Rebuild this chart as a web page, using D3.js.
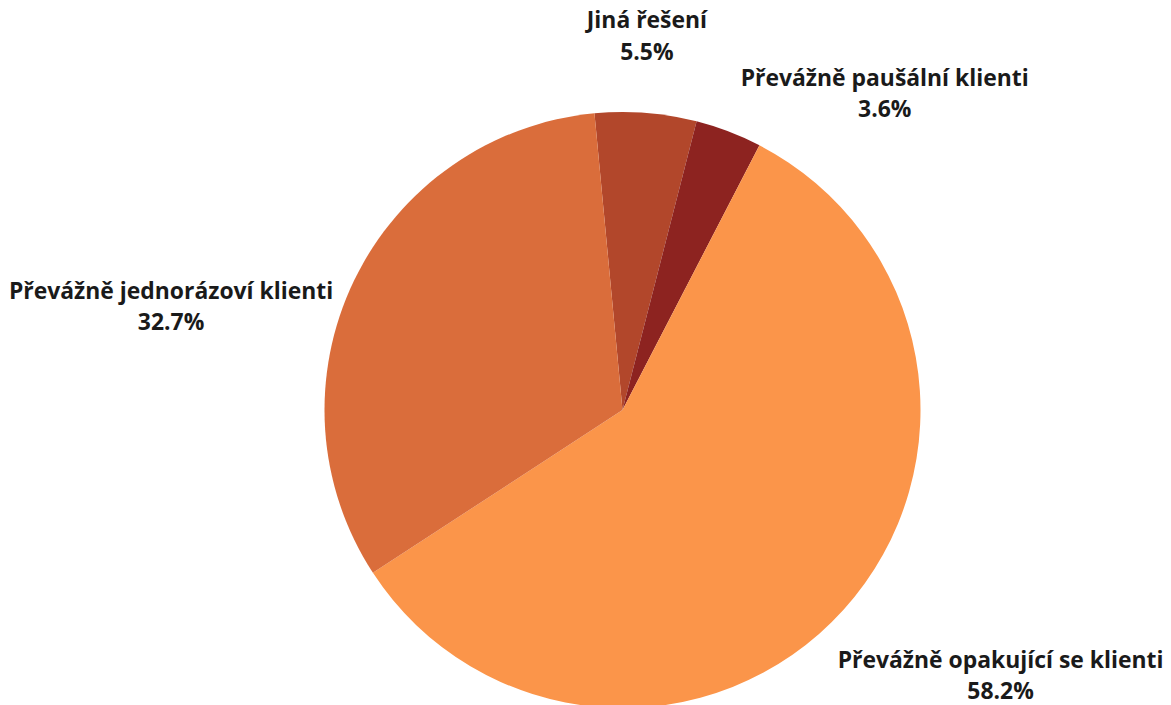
<!DOCTYPE html>
<html>
<head>
<meta charset="utf-8">
<script src="https://cdn.jsdelivr.net/npm/d3@7"></script>
<style>
  html, body { margin: 0; padding: 0; background: #ffffff; }
  svg { display: block; }
  text { font-family: "Open Sans", sans-serif; font-weight: 700; fill: #1a1a1a; }
</style>
</head>
<body>
<svg id="chart" width="1171" height="705"></svg>
<script>
// Data (clockwise order as drawn)
const categories = ["Jiná řešení", "Převážně paušální klienti", "Převážně opakující se klienti", "Převážně jednorázoví klienti"];
const values = [5.5, 3.6, 58.2, 32.7];
const colors = ["#B2472B", "#8D2320", "#FB954A", "#DA6D3B"];
// label nudges relative to slice's outer mid-point: [dx, dy of first baseline]
const labelOffsets = [[1, -84.5], [156, -46], [157, 58], [-183, 18]];

const W = 1171, H = 705;
const cx = 622.5, cy = 410, R = 298;
const startDeg = -5.4;
const fontSize = 22.9;

const svg = d3.select("#chart");
const g = svg.append("g").attr("transform", `translate(${cx},${cy})`);

const data = categories.map((c, i) => ({ name: c, value: values[i], color: colors[i], off: labelOffsets[i] }));

const pie = d3.pie().sort(null).value(d => d.value)
  .startAngle(startDeg * Math.PI / 180)
  .endAngle(startDeg * Math.PI / 180 + 2 * Math.PI);
const arc = d3.arc().innerRadius(0).outerRadius(R);
const arcs = pie(data);

g.selectAll("path.slice").data(arcs).join("path")
  .attr("class", "slice")
  .attr("d", arc)
  .attr("fill", d => d.data.color)
  .attr("stroke", "none");

const fmt = d3.format(".1f");
const lab = g.selectAll("g.lab").data(arcs).join("g").attr("class", "lab")
  .attr("transform", d => {
    const a = (d.startAngle + d.endAngle) / 2;
    const x = R * Math.sin(a) + d.data.off[0];
    const y = -R * Math.cos(a) + d.data.off[1];
    return `translate(${x},${y})`;
  });
lab.append("text").attr("text-anchor", "middle").attr("font-size", fontSize)
  .attr("y", 0).text(d => d.data.name);
lab.append("text").attr("text-anchor", "middle").attr("font-size", fontSize)
  .attr("y", 31.5).text(d => fmt(d.data.value) + "%");
</script>
</body>
</html>
